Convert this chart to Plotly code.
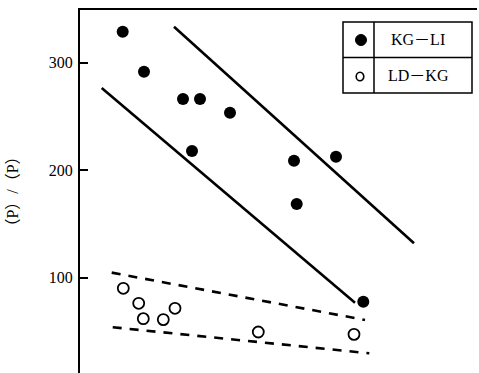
import plotly.graph_objects as go

# ---- data (x in arbitrary units) ----
kg_li_x = [4.27, 6.4, 10.3, 12.0, 11.2, 15.0, 21.4, 21.67, 25.6, 28.33]
kg_li_y = [328.8, 291.6, 266.2, 266.2, 217.9, 253.5, 208.8, 168.6, 212.6, 77.7]

ld_kg_x = [4.33, 5.87, 6.33, 8.33, 9.5, 17.83, 27.4]
ld_kg_y = [90.1, 76.2, 61.9, 61.0, 71.5, 49.5, 47.3]

# band lines (end points)
solid_upper_x = [9.4, 33.4]
solid_upper_y = [333.5, 132.0]
solid_lower_x = [2.17, 27.5]
solid_lower_y = [276.5, 76.7]
dash_upper_x = [3.17, 28.5]
dash_upper_y = [104.7, 60.7]
dash_lower_x = [3.27, 28.93]
dash_lower_y = [53.9, 29.7]

series_names = ["KG－LI", "LD－KG"]
y_ticks = [100, 200, 300]
y_title = "（P）/（P）"

SERIF = "Liberation Serif, Times New Roman, Noto Sans CJK JP, serif"

fig = go.Figure()

for xs, ys in [(solid_upper_x, solid_upper_y), (solid_lower_x, solid_lower_y)]:
    fig.add_trace(go.Scatter(x=xs, y=ys, mode="lines",
                             line=dict(color="black", width=2.6),
                             showlegend=False, hoverinfo="skip"))
for xs, ys in [(dash_upper_x, dash_upper_y), (dash_lower_x, dash_lower_y)]:
    fig.add_trace(go.Scatter(x=xs, y=ys, mode="lines",
                             line=dict(color="black", width=2.6, dash="9px,8px"),
                             showlegend=False, hoverinfo="skip"))

fig.add_trace(go.Scatter(x=kg_li_x, y=kg_li_y, mode="markers", name=series_names[0],
                         marker=dict(symbol="circle", size=12, color="black"),
                         showlegend=False))
fig.add_trace(go.Scatter(x=ld_kg_x, y=ld_kg_y, mode="markers", name=series_names[1],
                         marker=dict(symbol="circle-open", size=11, color="black",
                                     line=dict(width=1.8, color="black")),
                         showlegend=False))

# ---- table-like legend ----
W, H = 479 - 80 - 2, 373 - 10


def px(x):
    return (x - 80) / W


def py(y):
    return (373 - y) / H


L, R, D = px(343), px(472), px(374)
T, M, B = py(22), py(57.5), py(93)
line = dict(color="black", width=1.5)
shapes = [
    dict(type="rect", xref="paper", yref="paper", x0=L, x1=R, y0=B, y1=T, line=line),
    dict(type="line", xref="paper", yref="paper", x0=D, x1=D, y0=B, y1=T, line=line),
    dict(type="line", xref="paper", yref="paper", x0=L, x1=R, y0=M, y1=M, line=line),
    # filled symbol
    dict(type="circle", xref="paper", yref="paper", xsizemode="pixel", ysizemode="pixel",
         xanchor=px(361), yanchor=py(40), x0=-5.5, x1=5.5, y0=-5.5, y1=5.5,
         fillcolor="black", line=dict(color="black", width=1)),
    # open symbol
    dict(type="circle", xref="paper", yref="paper", xsizemode="pixel", ysizemode="pixel",
         xanchor=px(360), yanchor=py(76.5), x0=-3.8, x1=3.8, y0=-4.3, y1=4.3,
         fillcolor="white", line=dict(color="black", width=1.6)),
]
annotations = [
    dict(xref="paper", yref="paper", x=px(418), y=py(40), text=series_names[0],
         showarrow=False, xanchor="center", yanchor="middle",
         font=dict(family=SERIF, size=16, color="black")),
    dict(xref="paper", yref="paper", x=px(418), y=py(76), text=series_names[1],
         showarrow=False, xanchor="center", yanchor="middle",
         font=dict(family=SERIF, size=16, color="black")),
]

fig.update_layout(
    width=479, height=373,
    margin=dict(l=80, r=2, t=10, b=0, autoexpand=False),
    plot_bgcolor="white", paper_bgcolor="white",
    shapes=shapes, annotations=annotations,
    xaxis=dict(range=[0, W / 10], side="top", showline=True, linecolor="black",
               linewidth=2, showticklabels=False, ticks="", showgrid=False,
               zeroline=False, automargin=False),
    yaxis=dict(range=[11.35, 349.0], tickvals=y_ticks, ticks="inside", ticklen=8,
               tickwidth=1.5, tickcolor="black", showline=True, linecolor="black",
               linewidth=2, showgrid=False, zeroline=False, automargin=False,
               ticklabelstandoff=2,
               tickfont=dict(family=SERIF, size=16, color="black"),
               title=dict(text=y_title, standoff=26,
                          font=dict(family=SERIF, size=16, color="black"))),
)

fig.write_html(
    "out.html",
    config={"displayModeBar": False},
    post_script="document.body.style.margin='0';document.body.style.overflow='hidden';",
)
